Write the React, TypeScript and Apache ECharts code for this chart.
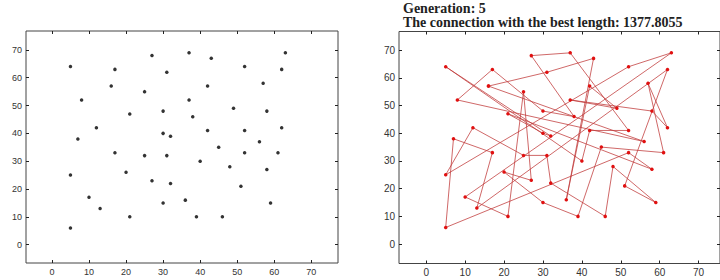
import React, { useEffect, useRef } from "react";
import * as echarts from "echarts";

// eil51 city coordinates
const cityX = [37, 49, 52, 20, 40, 21, 17, 31, 52, 51, 42, 31, 5, 12, 36, 52, 27, 17, 13, 57, 62, 42, 16, 8, 7, 27, 30, 43, 58, 58, 37, 38, 46, 61, 62, 63, 32, 45, 59, 5, 10, 21, 5, 30, 39, 32, 25, 25, 48, 56, 30];
const cityY = [52, 49, 64, 26, 30, 47, 63, 62, 33, 21, 41, 32, 25, 42, 16, 41, 23, 33, 13, 58, 42, 57, 57, 52, 38, 68, 48, 67, 48, 27, 69, 46, 10, 33, 63, 69, 22, 35, 15, 6, 17, 10, 64, 15, 10, 39, 32, 55, 28, 37, 40];
// visiting order (1-based city numbers) of the drawn route
const tour = [23, 8, 28, 15, 22, 2, 1, 29, 21, 20, 34, 38, 45, 44, 4, 17, 48, 42, 41, 36, 3, 13, 14, 47, 12, 37, 33, 49, 39, 10, 35, 19, 18, 25, 40, 9, 30, 6, 51, 46, 43, 5, 11, 16, 31, 26, 32, 27, 7, 24, 50];
const tickValues = [0, 10, 20, 30, 40, 50, 60, 70];
const titleLines = ["Generation: 5", "The connection with the best length: 1377.8055"];

export default function App() {
  const ref = useRef<HTMLDivElement>(null);
  useEffect(() => {
    if (!ref.current) return;
    const chart = echarts.init(ref.current, null, { renderer: "svg" });
    const pts = cityX.map((x, i) => [x, cityY[i]]);
    const route = tour.map((c) => pts[c - 1]);
    route.push(pts[tour[0] - 1]);

    const mkX = (gi: number, max: number, pos: "bottom" | "top", fs: number) => ({
      type: "value",
      gridIndex: gi,
      position: pos,
      min: -7,
      max,
      splitLine: { show: false },
      axisLine: { show: false, onZero: false },
      axisTick: { show: true, inside: true, length: 3, customValues: tickValues, lineStyle: { color: "#222" } },
      axisLabel: pos === "bottom" ? { show: true, customValues: tickValues, fontSize: fs, color: "#333", margin: 4, fontFamily: "Liberation Sans" } : { show: false },
    });
    const mkY = (gi: number, min: number, max: number, pos: "left" | "right", fs: number) => ({
      type: "value",
      gridIndex: gi,
      position: pos,
      min,
      max,
      splitLine: { show: false },
      axisLine: { show: false, onZero: false },
      axisTick: { show: true, inside: true, length: 3, customValues: tickValues, lineStyle: { color: "#222" } },
      axisLabel: pos === "left" ? { show: true, customValues: tickValues, fontSize: fs, color: "#333", margin: 4, fontFamily: "Liberation Sans" } : { show: false },
    });

    chart.setOption({
      animation: false,
      backgroundColor: "#fff",
      grid: [
        { left: 26, top: 31, width: 312, height: 232, show: true, borderColor: "#444", borderWidth: 1 },
        { left: 399, top: 31.5, width: 322, height: 232, show: true, borderColor: "#444", borderWidth: 1 },
      ],
      xAxis: [mkX(0, 77.2, "bottom", 9), mkX(0, 77.2, "top", 9), mkX(1, 75.5, "bottom", 10), mkX(1, 75.5, "top", 10)],
      yAxis: [mkY(0, -6.6, 76.8, "left", 9), mkY(0, -6.6, 76.8, "right", 9), mkY(1, -7, 76.7, "left", 10), mkY(1, -7, 76.7, "right", 10)],
      graphic: [
        {
          type: "text",
          left: 403,
          top: 1,
          style: {
            text: titleLines.join("\n"),
            fontFamily: "Liberation Serif",
            fontSize: 14,
            fontWeight: "bold",
            lineHeight: 14,
            fill: "#222",
          },
        },
      ],
      series: [
        {
          type: "scatter",
          xAxisIndex: 0,
          yAxisIndex: 0,
          data: pts,
          symbol: "circle",
          symbolSize: 3.5,
          itemStyle: { color: "#000" },
        },
        {
          type: "line",
          xAxisIndex: 2,
          yAxisIndex: 2,
          data: route,
          showSymbol: true,
          symbol: "circle",
          symbolSize: 3.5,
          itemStyle: { color: "#e01010" },
          lineStyle: { color: "#c03838", width: 0.9, opacity: 0.85 },
        },
      ],
    });
    return () => chart.dispose();
  }, []);
  return <div ref={ref} style={{ position: "fixed", left: 0, top: 0, width: 720, height: 280 }} />;
}
